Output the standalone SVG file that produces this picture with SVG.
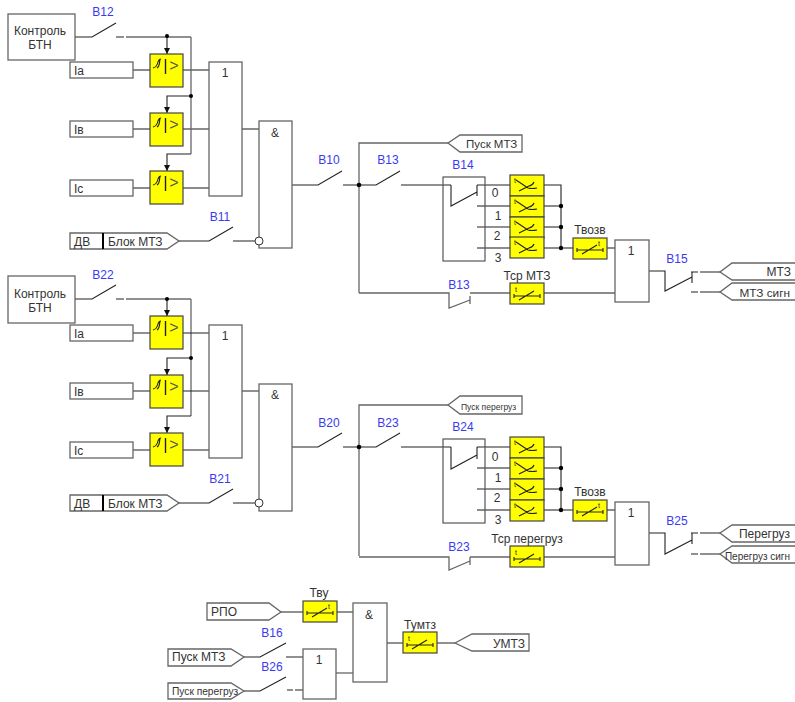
<svg xmlns="http://www.w3.org/2000/svg" width="795" height="702" viewBox="0 0 795 702">
<style>
text{font-family:"Liberation Sans",Arial,sans-serif;font-size:12px;fill:#333}
.b{fill:#3a3af0;text-anchor:middle}
.m{text-anchor:middle}
.e{text-anchor:end}
.s7{font-size:7px;fill:#222}
.w{fill:#fff;stroke:#666;stroke-width:1.3}
.sw{fill:none;stroke:#555;stroke-width:1.2}
.y{fill:#ff0;stroke:#444;stroke-width:1.2}
.l{fill:none;stroke:#222;stroke-width:1.1}
.g{fill:none;stroke:#666;stroke-width:1.3}
.gl{fill:none;stroke:#222;stroke-width:1.1}
.d{fill:#000}
.n{fill:#fff;stroke:#333}
</style>
<defs>
<marker id="ah" viewBox="0 0 6 6" refX="6" refY="3" markerWidth="6" markerHeight="6" markerUnits="userSpaceOnUse" orient="auto"><path d="M0 0L6 3L0 6z" fill="#111"/></marker>
<g id="relay"><rect class="y" width="33" height="33"/><path class="gl" d="M3 14Q7 13 8 8Q9 5 11 5M7 14Q9 13 9.500 9L10 5"/><path class="gl" d="M15.500 5V20" style="stroke-width:1.400"/><text x="24" y="17" class="m" style="font-size:16px;fill:#554">&gt;</text></g>
<g id="tdrop"><rect class="y" width="34" height="21"/><text x="4" y="8" class="s7">t</text><path class="gl" d="M6 5L18 13Q22 14 27 13M9 16L19 11Q23 10 24 7"/></g>
<g id="tR"><rect class="y" width="34" height="21"/><text x="25" y="8" class="s7">t</text><path class="gl" d="M4 12H30M4 10V14M30 10V14M9 16L24 7"/></g>
<g id="tL"><rect class="y" width="34" height="21"/><text x="5" y="9" class="s7">t</text><path class="gl" d="M4 13H30M4 11V15M30 11V15M9 17L24 8"/></g>
</defs>

<g id="connectors">
<path class="l" d="M75 37H92L116 23M116 37H124M126 37H191"/>
<path class="g" d="M191 37V154"/>
<path class="l" d="M191 154H167V171" marker-end="url(#ah)"/>
<path class="l" d="M167 36V54" marker-end="url(#ah)"/>
<path class="l" d="M191 96H167V113" marker-end="url(#ah)"/>
<circle class="d" cx="167" cy="36" r="2"/><circle class="d" cx="191" cy="96" r="2"/>
<path class="g" d="M133 70H150M183 70H209M133 129H150M183 129H209M133 188H150M183 188H209M242 129H259"/>
<path class="l" d="M179 241H209L233 227M233 241H255M292 185H318L342 171M343 185H376L400 171M401 185H451"/>
<path class="g" d="M359 293V143H448M359 293H449V308L470 300M470 296V304M470 293H511M544 293H615"/>
<path class="l" d="M451 185V206L477 192M477 185V196M477 185H510M477 227H510M544 185H561V248"/>
<path class="g" d="M477 206H510M477 248H510M544 206H561M544 227H561M544 248H573M607 248H615"/>
<circle class="d" cx="359" cy="185" r="2.300"/><circle class="d" cx="561" cy="206" r="2.200"/><circle class="d" cx="561" cy="227" r="2.200"/><circle class="d" cx="561" cy="248" r="2.200"/>
<path class="l" d="M649 271H665V291L692 277M692 272V283M691 272H698M700 272H720M691 292H698M700 292H720"/>

<path class="l" d="M75 299H92L116 285M116 299H124M126 299H191"/>
<path class="g" d="M191 299V416"/>
<path class="l" d="M191 416H167V433" marker-end="url(#ah)"/>
<path class="l" d="M167 299V316" marker-end="url(#ah)"/>
<path class="l" d="M191 358H167V375" marker-end="url(#ah)"/>
<circle class="d" cx="167" cy="299" r="2"/><circle class="d" cx="191" cy="358" r="2"/>
<path class="l" d="M133 333H150M183 333H209M133 391H150M183 391H209M133 450H150M183 450H209M242 391H259"/>
<path class="l" d="M179 503H209L233 489M233 503H255M292 447H318L342 433M343 447H376L400 433M401 447H451"/>
<path class="g" d="M359 556V405H448M359 557H449V570L470 561M470 557V565M470 557H511M544 557H615"/>
<path class="l" d="M451 447V469L477 455M477 447V459M477 447H510M477 489H510M544 447H561V510"/>
<path class="g" d="M477 468H510M477 510H510M544 468H561M544 489H561M544 510H573M607 510H615"/>
<circle class="d" cx="359" cy="447" r="2.300"/><circle class="d" cx="561" cy="468" r="2.200"/><circle class="d" cx="561" cy="489" r="2.200"/><circle class="d" cx="561" cy="510" r="2.200"/>
<path class="l" d="M649 533H665V554L692 540M692 533V544M691 533H698M700 533H720M691 554H698M700 554H720"/>

<path class="l" d="M281 612H303M337 612H353M387 643H403M437 643H455M244 657H260L286 643M286 657H303M244 691H260L286 677M287 690H293M295 690H303"/>
<path class="g" d="M336 673H353"/>
</g>

<g id="ctrl1"><rect class="w" x="8" y="14" width="67" height="46"/><text x="40" y="35" class="m">Контроль</text><text x="40" y="49" class="m">БТН</text></g>
<g id="Ia1"><rect class="w" x="70" y="62" width="63" height="16"/><text x="74" y="75">Iа</text></g>
<g id="Ib1"><rect class="w" x="70" y="121" width="63" height="16"/><text x="74" y="134">Iв</text></g>
<g id="Ic1"><rect class="w" x="70" y="180" width="63" height="16"/><text x="74" y="193">Iс</text></g>
<g id="relay1a"><use href="#relay" x="150" y="54"/></g>
<g id="relay1b"><use href="#relay" x="150" y="113"/></g>
<g id="relay1c"><use href="#relay" x="150" y="171"/></g>
<g id="or1"><rect class="w" x="209" y="62" width="33" height="134"/><text x="225" y="77" class="m">1</text></g>
<g id="and1"><rect class="w" x="259" y="121" width="33" height="127"/><text x="275" y="137" class="m">&amp;</text><circle class="n" cx="259" cy="241" r="4"/></g>
<g id="dv1"><path class="w" d="M70 233H167L179 241L167 249H70z"/><path d="M103 233V249" stroke="#000" stroke-width="2"/><text x="74" y="246">ДВ</text><text x="108" y="246">Блок МТЗ</text></g>
<g id="start1"><path class="w" d="M448 143L460 135H522V152H460z"/><text x="466" y="148" style="font-size:11.500px">Пуск МТЗ</text></g>
<g id="sw14"><rect class="sw" x="443" y="177" width="42" height="84"/><text x="495" y="197" class="m">0</text><text x="498" y="220" class="m">1</text><text x="497" y="240" class="m">2</text><text x="498" y="262" class="m">3</text></g>
<g id="t1a"><use href="#tdrop" x="510" y="175"/></g>
<g id="t1b"><use href="#tdrop" x="510" y="196"/></g>
<g id="t1c"><use href="#tdrop" x="510" y="217"/></g>
<g id="t1d"><use href="#tdrop" x="510" y="237"/></g>
<g id="tv1"><use href="#tR" x="573" y="238"/><text x="590" y="234" class="m">Твозв</text></g>
<g id="tsr1"><use href="#tL" x="510" y="283"/><text x="527" y="280" class="m">Тср МТЗ</text></g>
<g id="or2"><rect class="w" x="615" y="240" width="34" height="62"/><text x="631" y="255" class="m">1</text></g>
<g id="out1"><path class="w" d="M795 263H732L720 272L732 280H795"/><text x="791" y="276" class="e">МТЗ</text></g>
<g id="out2"><path class="w" d="M795 283H732L720 292L732 300H795"/><text x="790" y="297" class="e" style="font-size:11.800px">МТЗ сигн</text></g>

<g id="ctrl2"><rect class="w" x="8" y="276" width="67" height="47"/><text x="40" y="298" class="m">Контроль</text><text x="40" y="312" class="m">БТН</text></g>
<g id="Ia2"><rect class="w" x="70" y="325" width="63" height="16"/><text x="74" y="338">Iа</text></g>
<g id="Ib2"><rect class="w" x="70" y="383" width="63" height="16"/><text x="74" y="396">Iв</text></g>
<g id="Ic2"><rect class="w" x="70" y="442" width="63" height="16"/><text x="74" y="455">Iс</text></g>
<g id="relay2a"><use href="#relay" x="150" y="316"/></g>
<g id="relay2b"><use href="#relay" x="150" y="375"/></g>
<g id="relay2c"><use href="#relay" x="150" y="433"/></g>
<g id="or3"><rect class="w" x="209" y="325" width="33" height="133"/><text x="225" y="340" class="m">1</text></g>
<g id="and2"><rect class="w" x="259" y="384" width="33" height="127"/><text x="275" y="399" class="m">&amp;</text><circle class="n" cx="259" cy="503" r="4"/></g>
<g id="dv2"><path class="w" d="M70 495H167L179 503L167 511H70z"/><path d="M103 495V511" stroke="#000" stroke-width="2"/><text x="74" y="508">ДВ</text><text x="108" y="508">Блок МТЗ</text></g>
<g id="start2"><path class="w" d="M448 405L460 396H522V414H460z"/><text x="461" y="410" style="font-size:8.500px">Пуск перегруз</text></g>
<g id="sw24"><rect class="sw" x="443" y="439" width="42" height="84"/><text x="495" y="461" class="m">0</text><text x="498" y="482" class="m">1</text><text x="497" y="502" class="m">2</text><text x="498" y="524" class="m">3</text></g>
<g id="t2a"><use href="#tdrop" x="510" y="437"/></g>
<g id="t2b"><use href="#tdrop" x="510" y="458"/></g>
<g id="t2c"><use href="#tdrop" x="510" y="479"/></g>
<g id="t2d"><use href="#tdrop" x="510" y="500"/></g>
<g id="tv2"><use href="#tR" x="573" y="500"/><text x="590" y="496" class="m">Твозв</text></g>
<g id="tsr2"><use href="#tL" x="510" y="546"/><text x="527" y="543" class="m">Тср перегруз</text></g>
<g id="or4"><rect class="w" x="615" y="502" width="34" height="63"/><text x="631" y="517" class="m">1</text></g>
<g id="out3"><path class="w" d="M795 525H732L720 533L732 542H795"/><text x="790" y="538" class="e">Перегруз</text></g>
<g id="out4"><path class="w" d="M795 546H732L720 554L732 563H795"/><text x="790" y="560" class="e" style="font-size:10px">Перегруз сигн</text></g>

<g id="rpo"><path class="w" d="M207 603H269L281 612L269 620H207z"/><text x="211" y="616">РПО</text></g>
<g id="tvu"><use href="#tR" x="303" y="601"/><text x="319" y="597" class="m">Тву</text></g>
<g id="and3"><rect class="w" x="353" y="603" width="34" height="79"/><text x="369" y="619" class="m">&amp;</text></g>
<g id="tumtz"><use href="#tL" x="403" y="632"/><text x="420" y="629" class="m">Тумтз</text></g>
<g id="umtz"><path class="w" d="M455 643L472 634H529V651H472z"/><text x="525" y="648" class="e">УМТЗ</text></g>
<g id="or5"><rect class="w" x="303" y="649" width="33" height="50"/><text x="319" y="664" class="m">1</text></g>
<g id="pusk"><path class="w" d="M168 649H231L244 657L231 666H168z"/><text x="172" y="661">Пуск МТЗ</text></g>
<g id="puskp"><path class="w" d="M168 683H231L244 691L231 699H168z"/><text x="172" y="695" style="font-size:10.200px">Пуск перегруз</text></g>

<g id="labels">
<text class="b" x="103" y="16">В12</text>
<text class="b" x="220" y="221">В11</text>
<text class="b" x="329" y="164">В10</text>
<text class="b" x="388" y="164">В13</text>
<text class="b" x="463" y="169">В14</text>
<text class="b" x="459" y="289">В13</text>
<text class="b" x="677" y="263">В15</text>
<text class="b" x="103" y="279">В22</text>
<text class="b" x="220" y="483">В21</text>
<text class="b" x="329" y="427">В20</text>
<text class="b" x="388" y="427">В23</text>
<text class="b" x="463" y="431">В24</text>
<text class="b" x="459" y="551">В23</text>
<text class="b" x="677" y="525">В25</text>
<text class="b" x="272" y="637">В16</text>
<text class="b" x="272" y="671">В26</text>
</g>
</svg>
